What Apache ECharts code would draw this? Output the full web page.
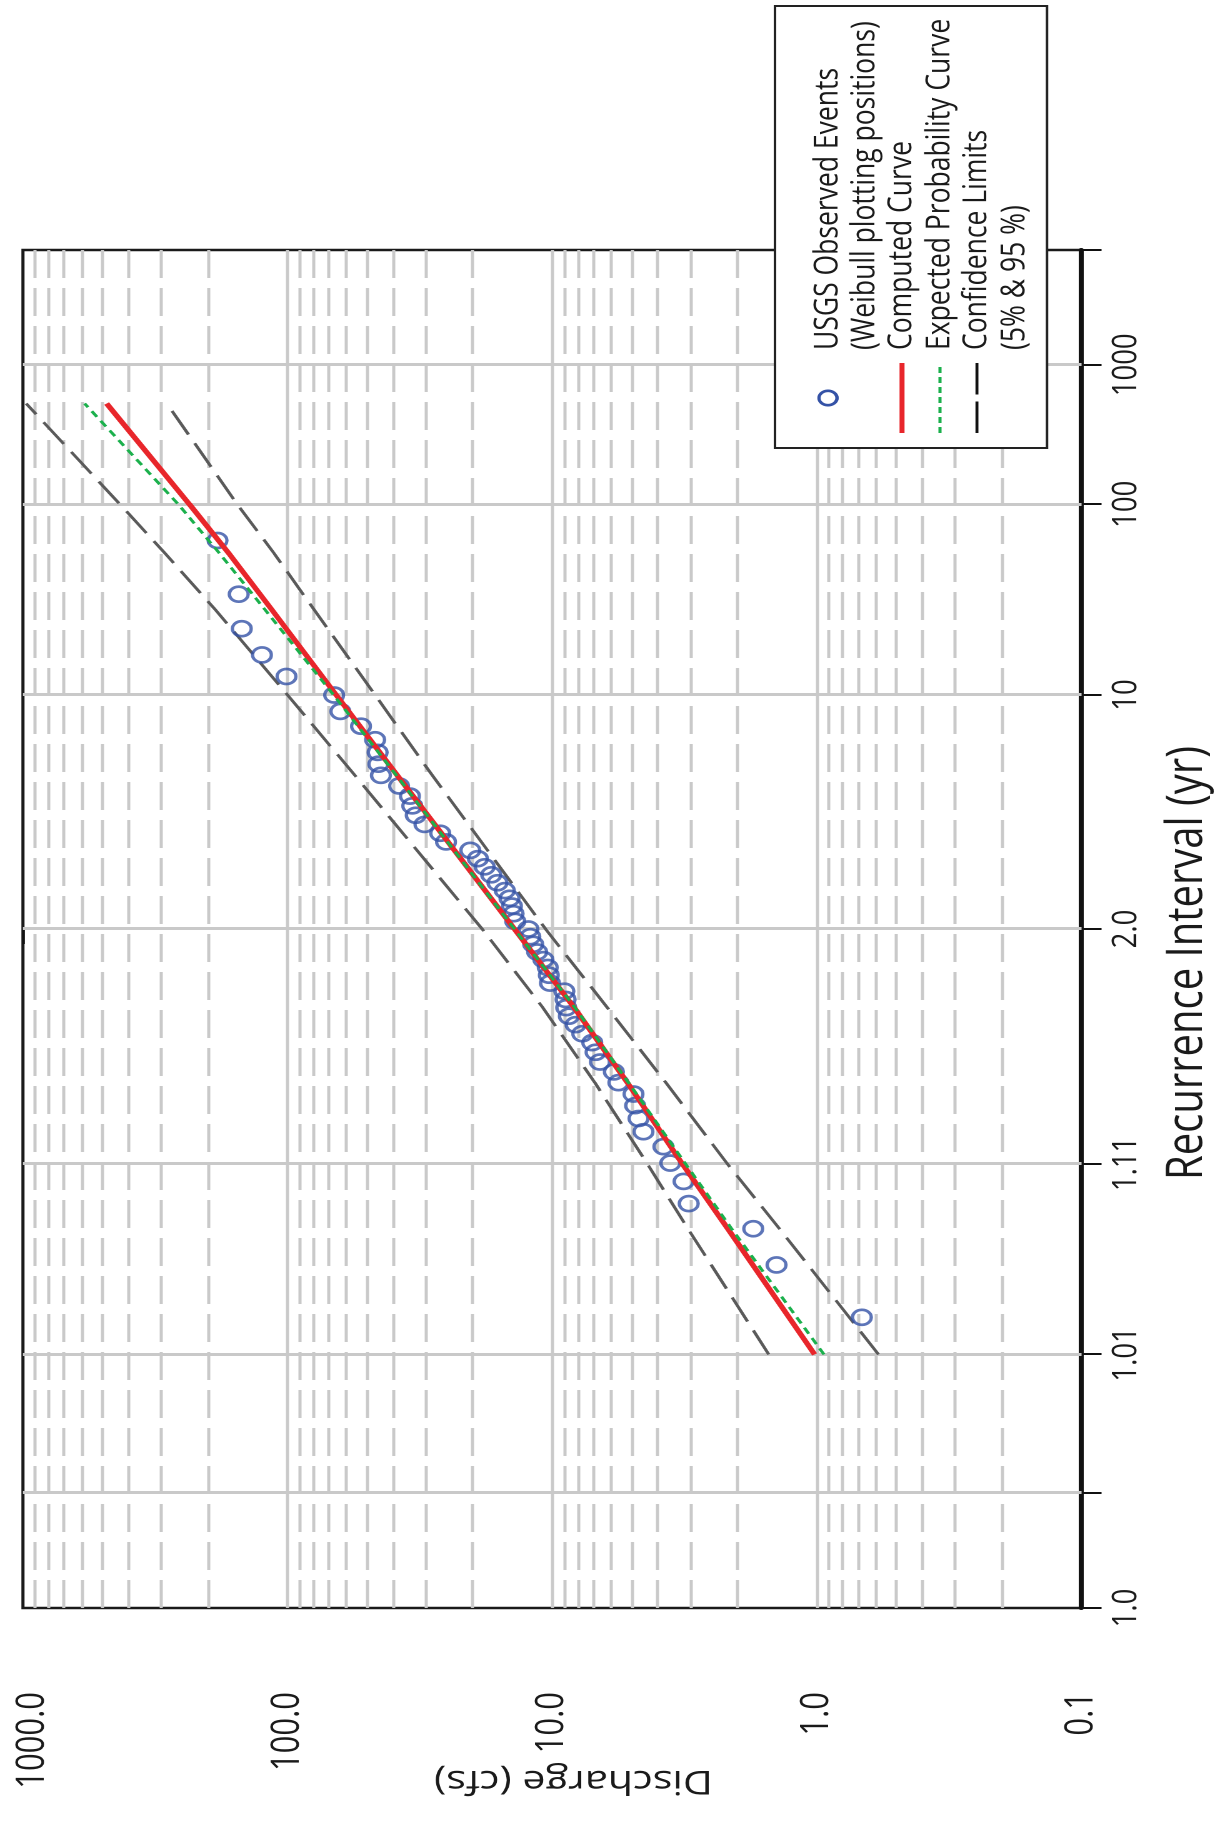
<!DOCTYPE html>
<html>
<head>
<meta charset="utf-8">
<script src="https://cdn.jsdelivr.net/npm/echarts@6/dist/echarts.min.js"></script>
<style>
  html, body { margin:0; padding:0; width:1218px; height:1827px; overflow:hidden; background:#fff; }
  #wrap { position:absolute; left:0; top:0; width:1827px; height:974px;
          transform-origin:0 0; transform: translate(0px,1827px) rotate(-90deg) scale(1,1.25); }
</style>
</head>
<body>
<div id="wrap"></div>
<script>
// ---------------- data ----------------
// Observed events: recurrence interval (yr) and discharge (cfs)
const obsT = [60, 30, 20, 15, 12, 10, 8.571, 7.5, 6.667, 6,
  5.455, 5, 4.615, 4.286, 4, 3.75, 3.529, 3.333, 3.158, 3,
  2.857, 2.727, 2.609, 2.5, 2.4, 2.308, 2.222, 2.143, 2.069, 2,
  1.935, 1.875, 1.818, 1.765, 1.714, 1.667, 1.622, 1.579, 1.538, 1.5,
  1.463, 1.429, 1.395, 1.364, 1.333, 1.304, 1.277, 1.25, 1.224, 1.2,
  1.176, 1.154, 1.132, 1.111, 1.091, 1.071, 1.053, 1.034, 1.017];
const obsQ = [184, 153, 149, 125, 101, 66.7, 63.2, 52.8, 46.7, 45.7,
  45.4, 44.4, 37.9, 34.5, 33.8, 32.8, 30.4, 26.5, 25.2, 20.4,
  19.1, 18.0, 17.0, 16.1, 15.1, 14.5, 14.2, 14.0, 13.8, 12.3,
  12.1, 11.8, 11.4, 10.8, 10.4, 10.3, 10.2, 9.0, 8.9, 8.85,
  8.65, 8.16, 7.7, 7.06, 6.86, 6.6, 5.85, 5.62, 4.93, 4.86,
  4.72, 4.52, 3.80, 3.58, 3.19, 3.05, 1.74, 1.42, 0.676];

// Frequency curves
const curveT     = [1.01, 1.053, 1.111, 1.25, 1.5, 2, 5, 10, 25, 50, 100, 500];
const computedQ  = [1.02, 2.17, 3.24, 5.2, 8.26, 13.9, 38.5, 65.5, 115, 166, 235, 483];
const expectedQ  = [0.94, 2.1, 3.15, 5.15, 8.2, 13.9, 38.8, 67, 122, 180, 259, 585];
const upperQ     = [1.52, 3.07, 4.39, 6.9, 10.85, 18.4, 55.7, 100, 188, 289, 430, 973];
const lowerQ     = [0.585, 1.385, 2.19, 3.72, 6.19, 10.6, 28.4, 46.7, 79.6, 112, 155, 286];

// Axes
const tAxisMin = 1.0001, tAxisMax = 10000;
const tTickVals   = [1.0001, 1.001, 1.01, 1.11, 2, 10, 100, 1000, 10000];
const tLabelVals  = [1.0001, 1.01, 1.11, 2, 10, 100, 1000];
const tLabelTexts = ['1.0', '1.01', '1.11', '2.0', '10', '100', '1000'];
const tGridVals   = [1.001, 1.01, 1.11, 2, 10, 100, 1000];
const qTicks      = [0.1, 1, 10, 100, 1000];
const qTickLabels = ['0.1', '1.0', '10.0', '100.0', '1000.0'];
const qMajorGrid  = [1, 10, 100];
const qMinorGrid  = [0.2,0.3,0.4,0.5,0.6,0.7,0.8,0.9, 2,3,4,5,6,7,8,9,
                     20,30,40,50,60,70,80,90, 200,300,400,500,600,700,800,900];

// ---------------- probability scale helper ----------------
function normInv(p) {
  const a=[-3.969683028665376e+01,2.209460984245205e+02,-2.759285104469687e+02,1.383577518672690e+02,-3.066479806614716e+01,2.506628277459239e+00];
  const b=[-5.447609879822406e+01,1.615858368580409e+02,-1.556989798598866e+02,6.680131188771972e+01,-1.328068155288572e+01];
  const c=[-7.784894002430293e-03,-3.223964580411365e-01,-2.400758277161838e+00,-2.549732539343734e+00,4.374664141464968e+00,2.938163982698783e+00];
  const d=[7.784695709041462e-03,3.224671290700398e-01,2.445134137142996e+00,3.754408661907416e+00];
  const pl=0.02425, ph=1-pl;
  if (p < pl) { const q=Math.sqrt(-2*Math.log(p)); return (((((c[0]*q+c[1])*q+c[2])*q+c[3])*q+c[4])*q+c[5])/((((d[0]*q+d[1])*q+d[2])*q+d[3])*q+1); }
  if (p <= ph) { const q=p-0.5, r=q*q; return (((((a[0]*r+a[1])*r+a[2])*r+a[3])*r+a[4])*r+a[5])*q/(((((b[0]*r+b[1])*r+b[2])*r+b[3])*r+b[4])*r+1); }
  const q=Math.sqrt(-2*Math.log(1-p)); return -(((((c[0]*q+c[1])*q+c[2])*q+c[3])*q+c[4])*q+c[5])/((((d[0]*q+d[1])*q+d[2])*q+d[3])*q+1);
}
const zT = T => normInv(1 - 1 / T);
const zMin = zT(tAxisMin), zMax = zT(tAxisMax);
const pairs = (ts, qs) => ts.map((t, i) => [zT(t), qs[i]]);

const tLabelZ = tLabelVals.map(zT);
function tLabel(v) {
  let best = 0, bd = Infinity;
  tLabelZ.forEach((z, i) => { const d = Math.abs(z - v); if (d < bd) { bd = d; best = i; } });
  return bd < 1e-4 ? tLabelTexts[best] : '';
}
function qLabel(v) {
  for (let i = 0; i < qTicks.length; i++) {
    if (Math.abs(Math.log10(v) - Math.log10(qTicks[i])) < 1e-6) {
      return i === qTicks.length - 1 ? '{edge|' + qTickLabels[i] + '}' : qTickLabels[i];
    }
  }
  return '';
}

// ---------------- chart ----------------
const chart = echarts.init(document.getElementById('wrap'), null, { renderer: 'canvas', devicePixelRatio: 2 });
const FONT = '"Open Sans", "Noto Sans", sans-serif';
const BLUE = '#3452a6', RED = '#e8262b', GREEN = '#1bb04c', CLC = '#5a5a5a', GRIDC = '#c9c9c9';

const legendU = 1394, legendText = 1477;
const rows = [662.4, 692, 721.6, 752, 781.6, 812];

chart.setOption({
  animation: false,
  backgroundColor: '#fff',
  grid: { left: 219, right: 250, top: 18.4, bottom: 108.8, containLabel: false, outerBoundsMode: 'none',
          show: true, borderColor: '#1a1a1a', borderWidth: 2.5, backgroundColor: 'transparent' },
  xAxis: {
    type: 'value', min: zMin, max: zMax, position: 'bottom',
    name: 'Recurrence Interval (yr)', nameLocation: 'middle', nameGap: 65, nameMoveOverlap: false,
    nameTextStyle: { fontSize: 40, fontFamily: FONT, color: '#1a1a1a', padding: [0, 68, 0, 0] },
    axisLine: { show: true, onZero: false, lineStyle: { color: '#111', width: 4 } },
    axisTick: { show: true, customValues: tTickVals.map(zT), length: 16, lineStyle: { color: '#111', width: 2 } },
    axisLabel: { show: true, customValues: tLabelZ, formatter: tLabel, margin: 22,
                 fontSize: 27.5, fontFamily: FONT, color: '#1a1a1a' },
    splitLine: { show: false }
  },
  yAxis: {
    type: 'log', logBase: 10, min: 0.1, max: 1000,
    name: 'Discharge (cfs)', nameLocation: 'middle', nameGap: 156, nameRotate: 90, nameMoveOverlap: false,
    nameTextStyle: { fontSize: 33, fontFamily: FONT, color: '#1a1a1a', padding: [0, 34, 0, 0] },
    axisLine: { show: false },
    axisTick: { show: true, length: 15, lineStyle: { color: '#111', width: 1.8 } },
    axisLabel: { formatter: qLabel, margin: 84, fontSize: 31, fontFamily: FONT, color: '#1a1a1a',
                 rich: { edge: { fontSize: 31, fontFamily: FONT, color: '#1a1a1a', padding: [16, 0, 0, 0] } } },
    splitLine: { show: false }, minorTick: { show: false }
  },
  series: [
    { type: 'lines', coordinateSystem: 'cartesian2d', silent: true, z: 1,
      data: qMinorGrid.map(q => ({ coords: [[zMin, q], [zMax, q]] })),
      lineStyle: { color: GRIDC, width: 2.4, type: [28, 10], opacity: 1 } },
    { type: 'lines', coordinateSystem: 'cartesian2d', silent: true, z: 1,
      data: qMajorGrid.map(q => ({ coords: [[zMin, q], [zMax, q]] })),
      lineStyle: { color: GRIDC, width: 2.4, type: 'solid', opacity: 1 } },
    { type: 'lines', coordinateSystem: 'cartesian2d', silent: true, z: 1,
      data: tGridVals.map(t => ({ coords: [[zT(t), 0.1], [zT(t), 1000]] })),
      lineStyle: { color: GRIDC, width: 3, type: 'solid', opacity: 1 } },
    { name: 'Confidence Limits (95%)', type: 'line', data: pairs(curveT, upperQ), symbol: 'none', z: 3,
      lineStyle: { color: CLC, width: 2.6, type: [27, 10] } },
    { name: 'Confidence Limits (5%)', type: 'line', data: pairs(curveT, lowerQ), symbol: 'none', z: 3,
      lineStyle: { color: CLC, width: 2.6, type: [27, 10] } },
    { name: 'USGS Observed Events', type: 'scatter', data: pairs(obsT, obsQ), z: 4,
      symbol: 'circle', symbolSize: 15,
      itemStyle: { color: 'rgba(0,0,0,0)', borderColor: BLUE, borderWidth: 2.7 } },
    { name: 'Computed Curve', type: 'line', data: pairs(curveT, computedQ), symbol: 'none', z: 5,
      lineStyle: { color: RED, width: 4.5 } },
    { name: 'Expected Probability Curve', type: 'line', data: pairs(curveT, expectedQ), symbol: 'none', z: 6,
      lineStyle: { color: GREEN, width: 2.6, type: [7, 5] } }
  ],
  graphic: [
    { type: 'rect', z: 100, shape: { x: 1379, y: 620, width: 442, height: 217.6 },
      style: { fill: '#fff', stroke: '#222', lineWidth: 2 } },
    { type: 'circle', z: 101, shape: { cx: 1429, cy: rows[0], r: 7.2 },
      style: { fill: 'none', stroke: BLUE, lineWidth: 2.7 } },
    { type: 'line', z: 101, shape: { x1: legendU, y1: rows[2], x2: legendU + 70, y2: rows[2] },
      style: { stroke: RED, lineWidth: 4 } },
    { type: 'line', z: 101, shape: { x1: legendU, y1: rows[3], x2: legendU + 70, y2: rows[3] },
      style: { stroke: GREEN, lineWidth: 2.4, lineDash: [6, 4] } },
    { type: 'line', z: 101, shape: { x1: legendU, y1: rows[4], x2: legendU + 70, y2: rows[4] },
      style: { stroke: '#111', lineWidth: 2.4, lineDash: [31.5, 7] } },
    ...['USGS Observed Events', '(Weibull plotting positions)', 'Computed Curve',
        'Expected Probability Curve', 'Confidence Limits', '(5% & 95 %)'].map((t, i) => ({
      type: 'text', z: 101, x: legendText, y: rows[i],
      style: { text: t, fontSize: 26.5, fontFamily: FONT, fill: '#1a1a1a',
               textAlign: 'left', textVerticalAlign: 'middle', verticalAlign: 'middle' }
    }))
  ]
});
</script>
</body>
</html>
